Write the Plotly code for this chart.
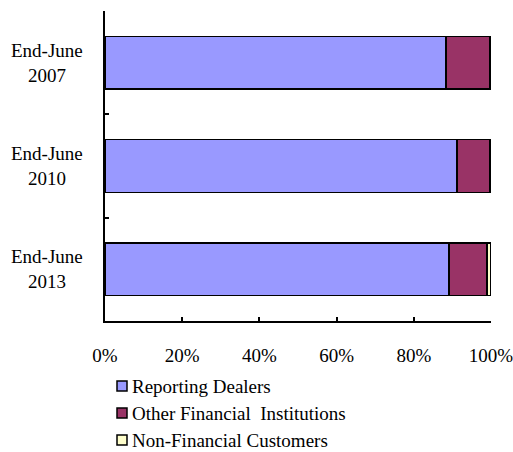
import plotly.graph_objects as go

periods = ["End-June 2007", "End-June 2010", "End-June 2013"]
period_labels = ["End-June<br>2007", "End-June<br>2010", "End-June<br>2013"]
reporting_dealers = [88.3, 91.2, 89.1]
other_financial = [11.3, 8.4, 9.8]
non_financial = [0.4, 0.4, 1.1]

series = [
    ("Reporting Dealers", reporting_dealers, "#9999FF"),
    ("Other Financial  Institutions", other_financial, "#993366"),
    ("Non-Financial Customers", non_financial, "#FFFFCC"),
]

font_family = "Liberation Serif, Times New Roman, serif"
font_size = 19

# plot area in pixels (used to place the hand-built legend and category labels)
W, H = 513, 452
L, R, T, B = 105, 22, 11, 131
pw, ph = W - L - R, H - T - B


def px_x(x):
    return (x - L) / pw


def px_y(y):
    return (H - B - y) / ph


fig = go.Figure()
for name, vals, color in series:
    fig.add_trace(go.Bar(
        y=periods, x=vals, name=name, orientation="h",
        marker=dict(color=color, line=dict(color="black", width=1.5)),
        showlegend=False,
    ))

# centred two-line category labels
for cat, lab in zip(periods, period_labels):
    fig.add_annotation(
        x=px_x(47), xref="paper", y=cat, yref="y", text=lab,
        showarrow=False, xanchor="center", align="center",
        font=dict(family=font_family, size=font_size, color="black"),
    )

# legend: small outlined squares with labels, stacked below the axis
for i, (name, _, color) in enumerate(series):
    cy = 386 + 27 * i
    fig.add_shape(
        type="rect", xref="paper", yref="paper",
        x0=px_x(117), x1=px_x(127), y0=px_y(cy + 5), y1=px_y(cy - 5),
        fillcolor=color, line=dict(color="black", width=1.5),
    )
    fig.add_annotation(
        x=px_x(130), xref="paper", y=px_y(cy), yref="paper", text=name,
        showarrow=False, xanchor="left", yanchor="middle",
        font=dict(family=font_family, size=font_size, color="black"),
    )

fig.update_layout(
    width=W, height=H,
    margin=dict(l=L, r=R, t=T, b=B, autoexpand=False),
    barmode="stack", bargap=0.49,
    plot_bgcolor="white", paper_bgcolor="white",
    font=dict(family=font_family, size=font_size, color="black"),
    showlegend=False,
    xaxis=dict(
        range=[0, 100], tickvals=[0, 20, 40, 60, 80, 100],
        ticktext=["0%", "20%", "40%", "60%", "80%", "100%"],
        showgrid=False, zeroline=False, showline=True, linecolor="black",
        linewidth=1.5, ticks="inside", ticklen=4, tickcolor="black",
        tickwidth=1.5, ticklabelstandoff=16, ticklabeloverflow="allow",
        fixedrange=True, automargin=False,
    ),
    yaxis=dict(
        type="category", categoryorder="array", categoryarray=periods,
        autorange="reversed", showticklabels=False,
        showgrid=False, showline=True, linecolor="black", linewidth=1.5,
        ticks="inside", ticklen=4, tickcolor="black", tickwidth=1.5,
        tickson="boundaries", automargin=False,
    ),
)

fig.write_html("out.html")
